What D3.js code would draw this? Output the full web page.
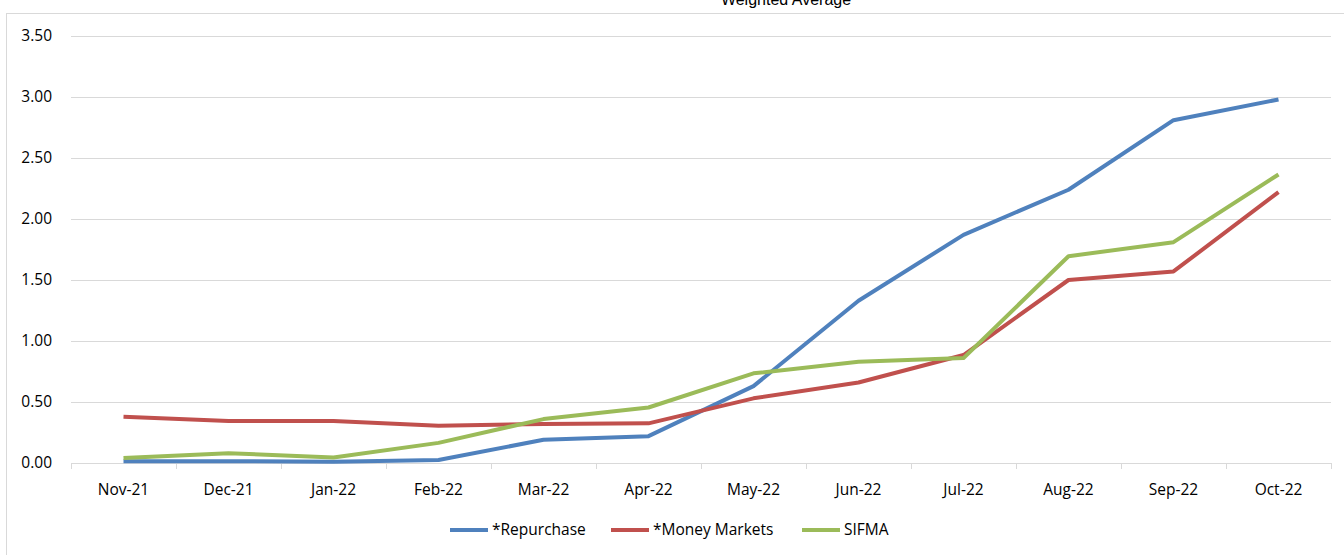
<!DOCTYPE html>
<html>
<head>
<meta charset="utf-8">
<script src="https://cdn.jsdelivr.net/npm/d3@7"></script>
<style>
  body { margin: 0; background: #fff; }
  svg { display: block; }
</style>
</head>
<body>
<div id="viz"></div>
<script>
const width = 1344;
const height = 555;
const margin = {top: 36, right: 13, bottom: 92, left: 71};

// chart values
const months = ['Nov-21', 'Dec-21', 'Jan-22', 'Feb-22', 'Mar-22', 'Apr-22',
  'May-22', 'Jun-22', 'Jul-22', 'Aug-22', 'Sep-22', 'Oct-22'];
const repurchase = [0.015, 0.015, 0.01, 0.025, 0.19, 0.22, 0.63, 1.33, 1.87, 2.24, 2.81, 2.98];
const moneyMarkets = [0.38, 0.345, 0.345, 0.305, 0.32, 0.325, 0.53, 0.66, 0.885, 1.50, 1.57, 2.22];
const sifma = [0.04, 0.08, 0.045, 0.165, 0.36, 0.455, 0.735, 0.83, 0.86, 1.695, 1.81, 2.365];
const yTicks = [0, 0.5, 1, 1.5, 2, 2.5, 3, 3.5];

const series = [
  { label: '*Repurchase', color: '#4F81BD', values: repurchase },
  { label: '*Money Markets', color: '#C0504D', values: moneyMarkets },
  { label: 'SIFMA', color: '#9BBB59', values: sifma },
];

const font = '"Open Sans", sans-serif';
const fontSize = '15.5px';

const svg = d3.select('#viz')
  .append('svg')
    .attr('width', width)
    .attr('height', height);

// outer chart frame
svg.append('rect')
  .attr('x', 6.5)
  .attr('y', 13.5)
  .attr('width', width + 10)
  .attr('height', height)
  .attr('fill', 'none')
  .attr('stroke', '#d9d9d9');

// title, pushed mostly off the top like the original
svg.append('text')
  .attr('x', 786)
  .attr('y', 5)
  .attr('text-anchor', 'middle')
  .style('font-family', '"Liberation Sans", Arial, sans-serif')
  .style('font-size', '16px')
  .attr('fill', '#000')
  .text('Weighted Average');

const scaleX = d3.scaleBand()
  .domain(months)
  .range([margin.left, width - margin.right])
  .padding(0);

const scaleY = d3.scaleLinear()
  .domain([0, 3.5])
  .range([height - margin.bottom, margin.top]);

// gridlines + y labels
const yAxis = svg.append('g')
  .attr('transform', `translate(${margin.left},0)`)
  .call(d3.axisLeft(scaleY)
    .tickValues(yTicks)
    .tickFormat(d3.format('.2f'))
    .tickSize(-(width - margin.left - margin.right))
    .tickPadding(19));
yAxis.select('.domain').remove();
yAxis.selectAll('.tick line')
  .attr('stroke', '#d9d9d9')
  .attr('stroke-width', 1);
yAxis.selectAll('.tick text')
  .style('font-family', font)
  .style('font-size', fontSize)
  .attr('fill', '#000');

// x axis: labels at category centers, tick marks on band edges
const xAxis = svg.append('g')
  .attr('transform', `translate(0,${height - margin.bottom})`)
  .call(d3.axisBottom(scaleX).tickSize(0).tickPadding(21));
xAxis.select('.domain')
  .attr('stroke', '#d9d9d9');
xAxis.selectAll('.tick text')
  .style('font-family', font)
  .style('font-size', fontSize)
  .attr('fill', '#000');

const edges = months.map(m => scaleX(m)).concat([scaleX.range()[1]]);
svg.append('g')
  .selectAll('line')
  .data(edges)
  .join('line')
    .attr('x1', d => d + 0.5)
    .attr('x2', d => d + 0.5)
    .attr('y1', height - margin.bottom)
    .attr('y2', height - margin.bottom + 6)
    .attr('stroke', '#d9d9d9');

// lines
const line = d3.line()
  .x((d, i) => scaleX(months[i]) + scaleX.bandwidth() / 2)
  .y(d => scaleY(d));

svg.append('g')
  .selectAll('path')
  .data(series)
  .join('path')
    .attr('d', d => line(d.values))
    .attr('fill', 'none')
    .attr('stroke', d => d.color)
    .attr('stroke-width', 4)
    .attr('stroke-linejoin', 'round');

// legend
const legendX = [450, 611, 802];
const legend = svg.append('g')
  .selectAll('g')
  .data(series)
  .join('g')
    .attr('transform', (d, i) => `translate(${legendX[i]},530)`);
legend.append('line')
  .attr('x1', 0)
  .attr('x2', 38)
  .attr('stroke', d => d.color)
  .attr('stroke-width', 4);
legend.append('text')
  .attr('x', 42)
  .attr('dy', '0.35em')
  .style('font-family', font)
  .style('font-size', fontSize)
  .attr('fill', '#000')
  .text(d => d.label);
</script>
</body>
</html>
